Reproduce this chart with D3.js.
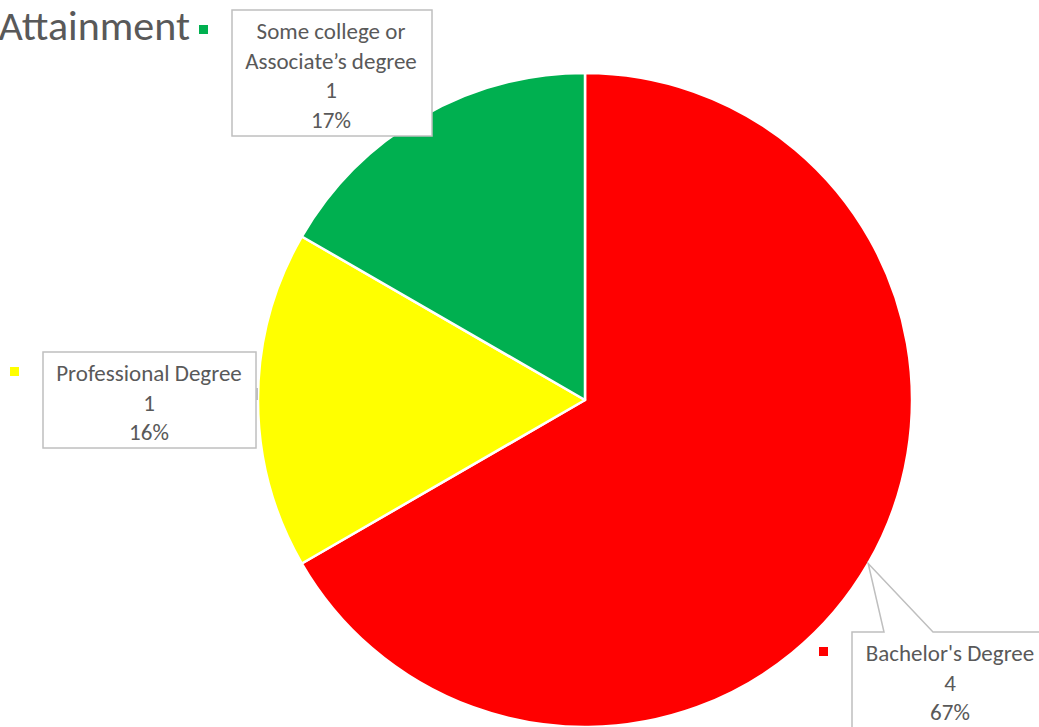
<!DOCTYPE html>
<html><head><meta charset="utf-8">
<script src="https://cdn.jsdelivr.net/npm/d3@7"></script>
<style>
html,body{margin:0;padding:0;background:#fff;overflow:hidden}
svg{display:block}
</style></head>
<body>
<svg id="chart" width="1039" height="727"></svg>
<script>
const categories = ["Bachelor's Degree", "Professional Degree", "Some college or\nAssociate\u2019s degree"];
const values = [4, 1, 1];
const pctLabels = ["67%", "16%", "17%"];
const colors = ["#FF0000", "#FFFF00", "#00B050"];
const title = "Attainment";

const W = 1039, H = 727;
const svg = d3.select("#chart");
const cx = 585, cy = 400, R = 327;
const font = "Carlito, 'Open Sans', 'Noto Sans', sans-serif";
const txtColor = "#595959";
const boxStroke = "#BFBFBF";

const pie = d3.pie().sort(null).value(d => d)(values);
const arc = d3.arc().innerRadius(0).outerRadius(R);
const g = svg.append("g").attr("transform", `translate(${cx},${cy})`);
g.selectAll("path").data(pie).join("path")
  .attr("d", arc)
  .attr("fill", (d, i) => colors[i])
  .attr("stroke", "#fff").attr("stroke-width", 2.5).attr("stroke-linejoin", "round");

// title (clipped at left)
svg.append("text").attr("x", 190).attr("y", 40).attr("text-anchor", "end")
  .attr("font-family", font).attr("font-size", 42).attr("fill", txtColor).text(title);

// label boxes layout
const boxes = [
  {x: 852, y: 632, w: 200, h: 110, mx: 819, my: 647, tx: 950},
  {x: 43, y: 352, w: 213, h: 96, mx: 10, my: 367, tx: 149},
  {x: 232, y: 10, w: 200, h: 126, mx: 199, my: 25, tx: 331}
];

const lineH = 29.5;
categories.forEach((cat, i) => {
  const b = boxes[i];
  const lines = cat.split("\n").concat([String(values[i]), pctLabels[i]]);
  if (i === 0) {
    const ang = (pie[i].startAngle + pie[i].endAngle) / 2;
    const tip = [cx + Math.sin(ang) * R, cy - Math.cos(ang) * R];
    const p1 = b.x + 32, p2 = b.x + 81;
    svg.append("path")
      .attr("d", `M${b.x},${b.y + b.h} L${b.x},${b.y} L${p1},${b.y} L${tip[0]},${tip[1]} L${p2},${b.y} L${b.x + b.w},${b.y}`)
      .attr("fill", "#fff").attr("stroke", boxStroke).attr("stroke-width", 1.5);
  } else {
    svg.append("rect").attr("x", b.x).attr("y", b.y).attr("width", b.w).attr("height", b.h)
      .attr("fill", "#fff").attr("stroke", boxStroke).attr("stroke-width", 1.5);
  }
  if (i === 1) {
    svg.append("rect").attr("x", b.x + b.w).attr("y", 388).attr("width", 2).attr("height", 12)
      .attr("fill", boxStroke);
  }
  svg.append("rect").attr("x", b.mx).attr("y", b.my).attr("width", 9).attr("height", 9)
    .attr("fill", colors[i]);
  const t = svg.append("text").attr("font-family", font).attr("font-size", 23)
    .attr("fill", txtColor).attr("text-anchor", "middle");
  const ty0 = b.y + 29;
  lines.forEach((ln, k) => {
    t.append("tspan").attr("x", b.tx).attr("y", ty0 + k * lineH).text(ln);
  });
});
</script>
</body></html>
